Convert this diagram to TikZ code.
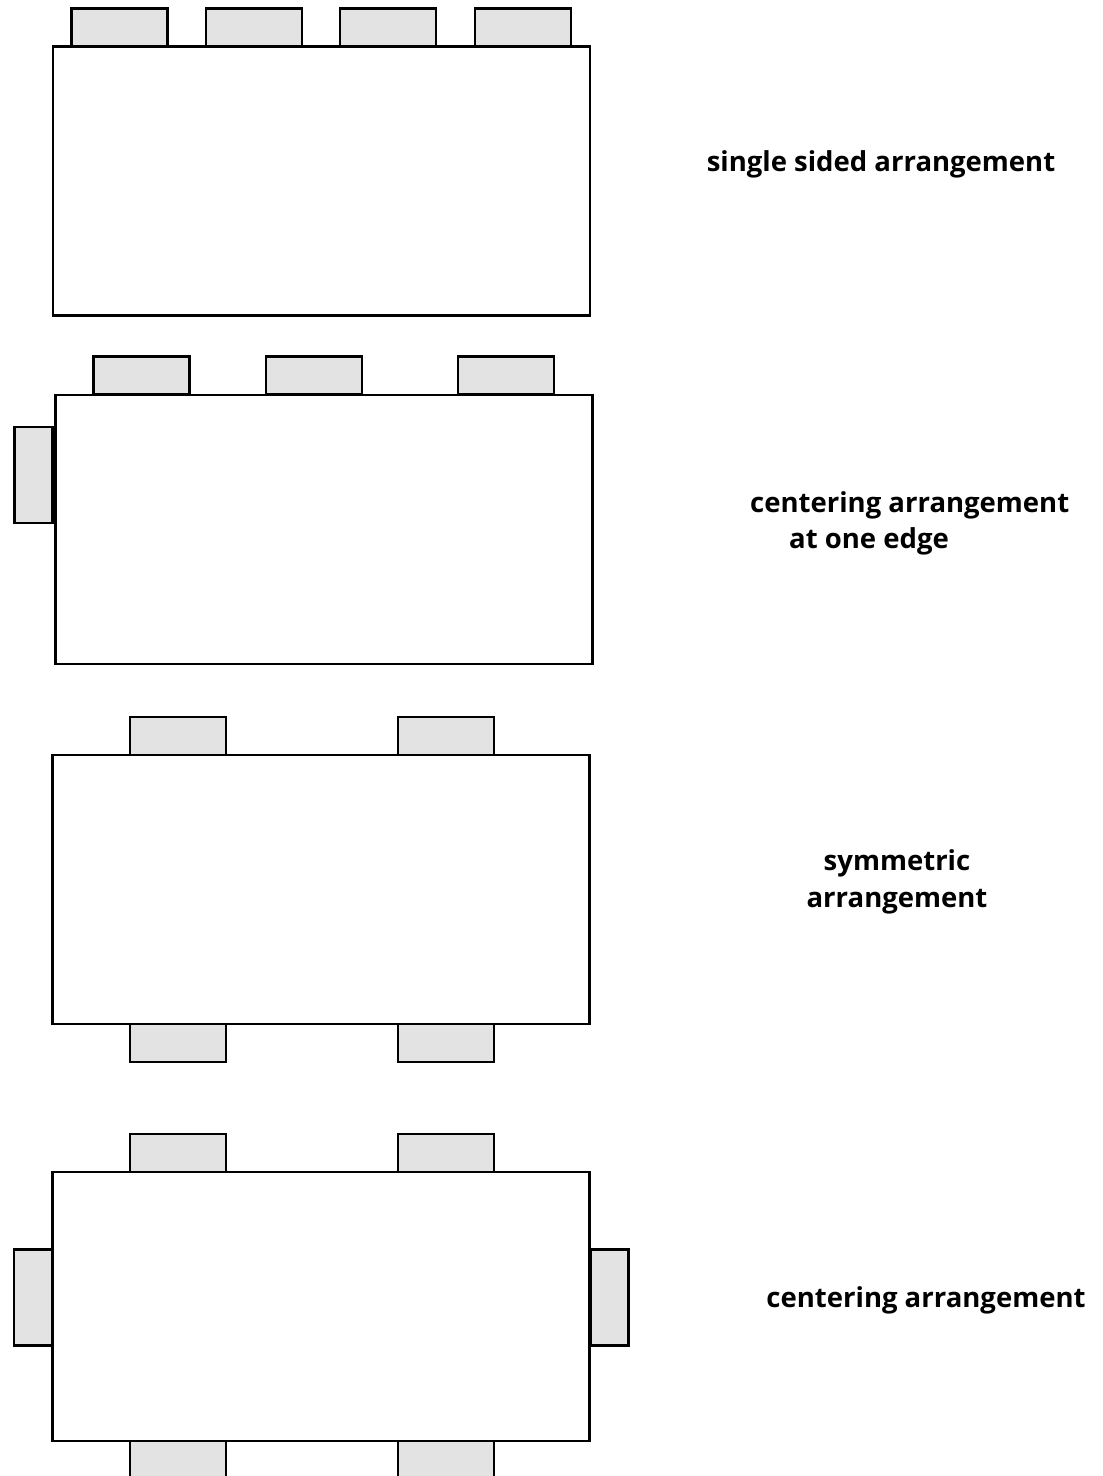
\documentclass[tikz,border=0pt]{standalone}
\usepackage{fontspec}
\setmainfont{Open Sans}
\begin{document}
\begin{tikzpicture}[x=1pt,y=-1pt,
  tablebox/.style={draw=black,fill=white,line width=2.5pt,minimum width=537pt,minimum height=269pt,inner sep=0pt,outer sep=0pt},
  chairh/.style={draw=black,fill=black!11,line width=2.5pt,minimum width=96pt,minimum height=38pt,inner sep=0pt,outer sep=0pt},
  chairv/.style={draw=black,fill=black!11,line width=2.5pt,minimum width=38pt,minimum height=96pt,inner sep=0pt,outer sep=0pt},
  lbl/.style={font=\fontsize{27.5}{37}\selectfont\bfseries,inner sep=0pt,align=center}]
\useasboundingbox (0,0) rectangle (1103,1476);
% panel 1
\node[tablebox] (t1) at (321.5,181) {};
\node[chairh] (c11) at (119.5,27.5) {};
\node[chairh] (c12) at (254,27.5) {};
\node[chairh] (c13) at (388,27.5) {};
\node[chairh] (c14) at (523,27.5) {};
\node[lbl] (l1) at (881,164) {single sided arrangement};
% panel 2
\node[tablebox] (t2) at (324,529.5) {};
\node[chairh] (c21) at (141.5,375.5) {};
\node[chairh] (c22) at (314,375.5) {};
\node[chairh] (c23) at (506,375.5) {};
\node[chairv] (c24) at (33.5,475) {};
\node[lbl,anchor=west] (l2a) at (750,505) {centering arrangement};
\node[lbl,anchor=west] (l2b) at (789,541) {at one edge};
% panel 3
\node[tablebox] (t3) at (321,889.5) {};
\node[chairh] (c31) at (178,736) {};
\node[chairh] (c32) at (446,736) {};
\node[chairh] (c33) at (178,1043) {};
\node[chairh] (c34) at (446,1043) {};
\node[lbl] (l3) at (897,882) {symmetric\\arrangement};
% panel 4
\node[tablebox] (t4) at (321,1306.5) {};
\node[chairh] (c41) at (178,1153) {};
\node[chairh] (c42) at (446,1153) {};
\node[chairv] (c43) at (33,1297.5) {};
\node[chairv] (c44) at (609.5,1297.5) {};
\node[chairh] (c45) at (178,1460) {};
\node[chairh] (c46) at (446,1460) {};
\node[lbl] (l4) at (926,1300) {centering arrangement};
\end{tikzpicture}
\end{document}
